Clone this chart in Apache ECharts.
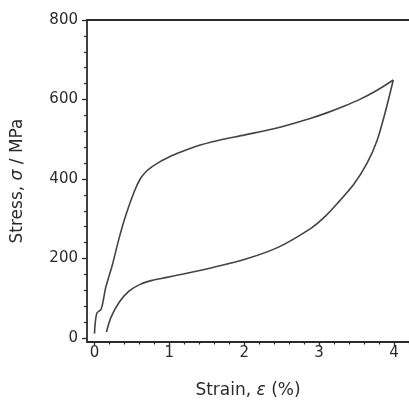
<!DOCTYPE html>
<html>
<head>
<meta charset="utf-8">
<script src="https://cdn.jsdelivr.net/npm/echarts@6/dist/echarts.min.js"></script>
<style>html,body{margin:0;padding:0;background:#fff;}#c{width:409px;height:404px;}</style>
</head>
<body>
<div id="c"></div>
<script>
// Loading branch (strain %, stress MPa)
var loadStrain = [0.00, 0.03, 0.09, 0.15, 0.24, 0.33, 0.42, 0.53, 0.61, 0.69, 0.77, 0.86, 0.95, 1.10, 1.35, 1.65, 2.01, 2.45, 2.89, 3.11, 3.33, 3.55, 3.78, 3.99];
var loadStress = [11, 62, 73, 127, 185, 252, 310, 368, 400, 419, 431, 442, 451, 464, 482, 497, 511, 529, 553, 567, 583, 601, 624, 649];
// Unloading branch
var unloadStrain = [3.99, 3.88, 3.77, 3.64, 3.46, 3.24, 3.07, 2.89, 2.45, 2.01, 1.57, 1.13, 0.95, 0.77, 0.61, 0.46, 0.33, 0.22, 0.16];
var unloadStress = [649, 566, 495, 440, 386, 338, 304, 276, 228, 198, 177, 159, 152, 145, 135, 118, 90, 52, 15];
// Tick values
var xMajor = [0, 1, 2, 3, 4];
var xMinor = [0.2, 0.4, 0.6, 0.8, 1.2, 1.4, 1.6, 1.8, 2.2, 2.4, 2.6, 2.8, 3.2, 3.4, 3.6, 3.8, 4.2];
var yMajor = [0, 200, 400, 600, 800];
var yMinor = [40, 80, 120, 160, 240, 280, 320, 360, 440, 480, 520, 560, 640, 680, 720, 760];

function pairs(xs, ys) { return xs.map(function (x, i) { return [x, ys[i]]; }); }

var FONT = 'DejaVu Sans';
var AX = '#2b2b2b';
var XMIN = -0.1, XMAX = 4.2, YMIN = -10, YMAX = 800;

var chart = echarts.init(document.getElementById('c'), null, {renderer: 'canvas'});
chart.setOption({
  animation: false,
  backgroundColor: '#fff',
  grid: {left: 87, top: 20, right: -4, bottom: 59, containLabel: false},
  xAxis: [
    {
      type: 'value', min: XMIN, max: XMAX, position: 'bottom',
      name: 'Strain, {i|ε} (%)', nameLocation: 'middle', nameGap: 40,
      nameTextStyle: {fontFamily: FONT, fontSize: 17, color: AX,
        rich: {i: {fontFamily: FONT, fontSize: 17, fontStyle: 'italic', color: AX}}},
      axisLine: {show: true, onZero: false, lineStyle: {color: AX, width: 1.8}},
      axisTick: {show: true, length: 4, inside: false, customValues: xMajor, lineStyle: {color: AX, width: 1.3}},
      axisLabel: {show: true, customValues: xMajor, margin: 4, fontFamily: FONT, fontSize: 15, color: AX},
      splitLine: {show: false}
    },
    {
      type: 'value', min: XMIN, max: XMAX, position: 'bottom',
      axisLine: {show: false, onZero: false},
      axisTick: {show: true, length: 2.5, customValues: xMinor, lineStyle: {color: AX, width: 1.2}},
      axisLabel: {show: false},
      splitLine: {show: false}
    },
    {
      type: 'value', min: XMIN, max: XMAX, position: 'top',
      axisLine: {show: true, onZero: false, lineStyle: {color: AX, width: 1.8}},
      axisTick: {show: false}, axisLabel: {show: false}, splitLine: {show: false}
    }
  ],
  yAxis: [
    {
      type: 'value', min: YMIN, max: YMAX, position: 'left',
      name: 'Stress, {i|σ} / MPa', nameLocation: 'middle', nameGap: 61,
      nameTextStyle: {fontFamily: FONT, fontSize: 17, color: AX,
        rich: {i: {fontFamily: FONT, fontSize: 17, fontStyle: 'italic', color: AX}}},
      axisLine: {show: true, onZero: false, lineStyle: {color: AX, width: 1.8}},
      axisTick: {show: true, length: 5, customValues: yMajor, lineStyle: {color: AX, width: 1.3}},
      axisLabel: {show: true, customValues: yMajor, margin: 9, fontFamily: FONT, fontSize: 15, color: AX},
      splitLine: {show: false}
    },
    {
      type: 'value', min: YMIN, max: YMAX, position: 'left',
      axisLine: {show: false, onZero: false},
      axisTick: {show: true, length: 3, customValues: yMinor, lineStyle: {color: AX, width: 1.2}},
      axisLabel: {show: false},
      splitLine: {show: false}
    }
  ],
  series: [
    {
      type: 'line', xAxisIndex: 0, yAxisIndex: 0, data: pairs(loadStrain, loadStress),
      smooth: 0.3, showSymbol: false, lineStyle: {color: '#444', width: 1.6}
    },
    {
      type: 'line', xAxisIndex: 0, yAxisIndex: 0, data: pairs(unloadStrain, unloadStress),
      smooth: 0.3, showSymbol: false, lineStyle: {color: '#444', width: 1.6}
    }
  ]
});
</script>
</body>
</html>
